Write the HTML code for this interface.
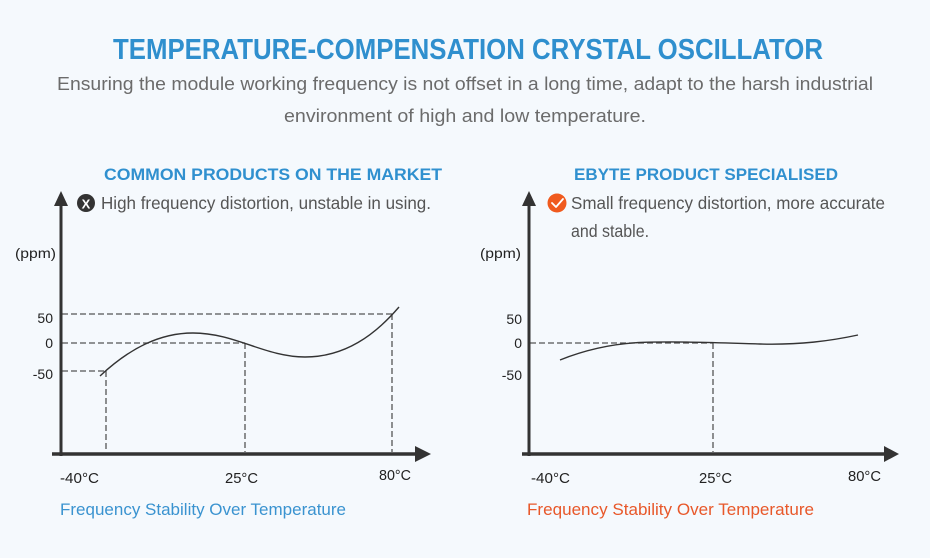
<!DOCTYPE html>
<html><head><meta charset="utf-8"><style>
html,body{margin:0;padding:0;background:#f5f9fd;}
svg{display:block;}
text{font-family:"Liberation Sans",sans-serif;}
</style></head><body>
<svg width="930" height="558" viewBox="0 0 930 558" xmlns="http://www.w3.org/2000/svg">
<rect width="930" height="558" fill="#f5f9fd"/>
<!-- Title -->
<text x="113" y="59" font-size="29" font-weight="bold" fill="#2f8fce" textLength="710" lengthAdjust="spacingAndGlyphs">TEMPERATURE-COMPENSATION CRYSTAL OSCILLATOR</text>
<text x="57" y="90" font-size="18" fill="#6b6b6b" textLength="816" lengthAdjust="spacingAndGlyphs">Ensuring the module working frequency is not offset in a long time, adapt to the harsh industrial</text>
<text x="284" y="122" font-size="18" fill="#6b6b6b" textLength="362" lengthAdjust="spacingAndGlyphs">environment of high and low temperature.</text>

<!-- Section headers -->
<text x="104" y="180" font-size="17" font-weight="bold" fill="#3090cf" textLength="338" lengthAdjust="spacingAndGlyphs">COMMON PRODUCTS ON THE MARKET</text>
<text x="574" y="180" font-size="17" font-weight="bold" fill="#3090cf" textLength="264" lengthAdjust="spacingAndGlyphs">EBYTE PRODUCT SPECIALISED</text>

<!-- Bullets -->
<circle cx="86" cy="203" r="9" fill="#333"/>
<text x="86" y="208.5" font-size="13" font-weight="bold" fill="#fff" text-anchor="middle">X</text>
<text x="101" y="209" font-size="17.5" fill="#555" textLength="330" lengthAdjust="spacingAndGlyphs">High frequency distortion, unstable in using.</text>

<circle cx="557" cy="203" r="9.5" fill="#f05a1e"/>
<path d="M552,203 L556,207 L563,199" fill="none" stroke="#fff" stroke-width="1.8" stroke-linecap="round" stroke-linejoin="round"/>
<text x="571" y="209" font-size="17.5" fill="#555" textLength="314" lengthAdjust="spacingAndGlyphs">Small frequency distortion, more accurate</text>
<text x="571" y="237" font-size="17.5" fill="#555" textLength="78" lengthAdjust="spacingAndGlyphs">and stable.</text>

<!-- LEFT CHART -->
<text x="15" y="258" font-size="14" fill="#222" textLength="41" lengthAdjust="spacingAndGlyphs">(ppm)</text>
<text x="53" y="323" font-size="14" fill="#222" text-anchor="end">50</text>
<text x="53" y="348" font-size="14" fill="#222" text-anchor="end">0</text>
<text x="53" y="379" font-size="14" fill="#222" text-anchor="end">-50</text>

<g stroke="#555" stroke-width="1.3" stroke-dasharray="6,3" fill="none">
<line x1="62" y1="314" x2="392" y2="314"/>
<line x1="62" y1="343" x2="245" y2="343"/>
<line x1="62" y1="371" x2="106" y2="371"/>
<line x1="106" y1="371" x2="106" y2="452"/>
<line x1="245" y1="343" x2="245" y2="452"/>
<line x1="392" y1="314" x2="392" y2="452"/>
</g>
<path d="M100,376 C130,348 160,333 193,333 C235,333 265,357 305,357 C345,357 375,335 399,307" fill="none" stroke="#333" stroke-width="1.4"/>

<line x1="61" y1="204" x2="61" y2="456" stroke="#333" stroke-width="3"/>
<polygon points="61,191 54,206 68,206" fill="#333"/>
<line x1="52" y1="454" x2="417" y2="454" stroke="#333" stroke-width="3.5"/>
<polygon points="431,454 415,446 415,462" fill="#333"/>

<text x="60" y="483" font-size="15" fill="#222" textLength="39" lengthAdjust="spacingAndGlyphs">-40°C</text>
<text x="225" y="483" font-size="15" fill="#222" textLength="33" lengthAdjust="spacingAndGlyphs">25°C</text>
<text x="379" y="480" font-size="15" fill="#222" textLength="32" lengthAdjust="spacingAndGlyphs">80°C</text>
<text x="60" y="515" font-size="16.5" fill="#3a93d0" textLength="286" lengthAdjust="spacingAndGlyphs">Frequency Stability Over Temperature</text>

<!-- RIGHT CHART -->
<text x="480" y="258" font-size="14" fill="#222" textLength="41" lengthAdjust="spacingAndGlyphs">(ppm)</text>
<text x="522" y="324" font-size="14" fill="#222" text-anchor="end">50</text>
<text x="522" y="348" font-size="14" fill="#222" text-anchor="end">0</text>
<text x="522" y="380" font-size="14" fill="#222" text-anchor="end">-50</text>

<g stroke="#555" stroke-width="1.3" stroke-dasharray="6,3" fill="none">
<line x1="530" y1="343" x2="713" y2="343"/>
<line x1="713" y1="343" x2="713" y2="452"/>
</g>
<path d="M560,360 C585,350 610,344 640,342.5 C680,341 720,343 760,344 C800,345 830,341 858,335" fill="none" stroke="#333" stroke-width="1.4"/>

<line x1="529" y1="204" x2="529" y2="456" stroke="#333" stroke-width="3"/>
<polygon points="529,191 522,206 536,206" fill="#333"/>
<line x1="522" y1="454" x2="886" y2="454" stroke="#333" stroke-width="3.5"/>
<polygon points="899,454 884,446 884,462" fill="#333"/>

<text x="531" y="483" font-size="15" fill="#222" textLength="39" lengthAdjust="spacingAndGlyphs">-40°C</text>
<text x="699" y="483" font-size="15" fill="#222" textLength="33" lengthAdjust="spacingAndGlyphs">25°C</text>
<text x="848" y="481" font-size="15" fill="#222" textLength="33" lengthAdjust="spacingAndGlyphs">80°C</text>
<text x="527" y="515" font-size="16.5" fill="#e8582a" textLength="287" lengthAdjust="spacingAndGlyphs">Frequency Stability Over Temperature</text>
</svg>
</body></html>
